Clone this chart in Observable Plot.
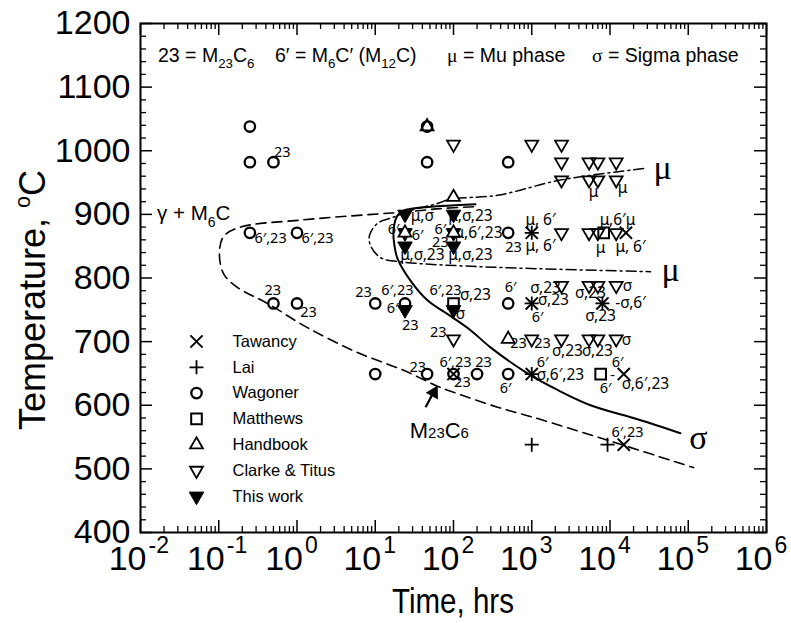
<!DOCTYPE html>
<html>
<head>
<meta charset="utf-8">
<script src="https://cdn.jsdelivr.net/npm/d3@7"></script>
<script src="https://cdn.jsdelivr.net/npm/@observablehq/plot@0.6"></script>
<style>
html,body{margin:0;padding:0;background:#fff;}
#chart{width:791px;height:623px;}
</style>
</head>
<body>
<div id="chart"></div>
<script>
// ---------------- data (time in hours, temperature in °C) ----------------
const tawancy = [[100,649],[1000,649],[15000,649],[1000,760],[8000,760],[1000,871],[16000,871],[15000,538]];
const lai = [[1000,538],[9300,538],[1000,649],[1000,760],[8000,760],[1000,871]];
const wagoner = [[0.25,1038],[0.25,982],[0.5,982],[0.25,871],[1,871],[0.5,760],[1,760],[10,760],[24,760],[500,760],
                 [10,649],[46,649],[100,649],[200,649],[500,649],[46,1038],[46,982],[500,982],[500,871]];
const matthews = [[100,760],[8300,871],[7600,649]];
const handbook = [[46,1038],[100,927],[24,871],[100,871],[500,704]];
const clarkeTitus = [[100,1010],[1000,1010],[2400,1010],[2400,982],[5400,982],[7000,982],[12000,982],
                     [2400,954],[5400,954],[7000,954],[12000,954],[2400,871],[5400,871],[7000,871],[12000,871],
                     [2400,788],[5400,788],[7000,788],[12000,788],[100,704],[1000,704],[2400,704],[5400,704],[7000,704],[12000,704]];
const thisWork = [[24,900],[100,900],[24,871],[100,871],[24,850],[100,850],[24,750],[100,750]];

// boundary curves
const m23c6Curve = [[180,912],[68,909],[21,903],[11.7,901],[1.11,891],[0.19,880],[0.115,865],[0.102,839],[0.115,807],
                    [0.174,785],[0.42,760],[1.36,722],[5.9,683],[23,655],[62,630],[92,622],[365,597],[1050,581],[9300,545],[117000,502]];
const sigmaCurve = [[191,916],[68,913],[23,906],[19.2,898],[17.1,875],[17.6,851],[19.2,831],[28.2,796],[46.5,765],
                    [92,740],[165,718],[297,691],[883,650],[2135,624],[5636,600],[22440,578],[79430,556]];
const muCurve = [[26800,972],[2330,954],[365,930],[92,924],[62,917],[28.2,906],[16.6,895],[10.7,886],[8.45,867],
                 [8.7,851],[11.7,832],[23,825],[324,817],[33000,810]];

// point annotations [text, time, temperature]
const labels = [
  ["23",0.65,997],["6′,23",0.46,862],["6′,23",1.83,862],["23",0.49,780],["23",1.40,746],["23",7.1,777],
  ["6′,23",19.2,780],["6′",16.6,752],["23",28,725],["6′,23",79,780],["σ,23",191,773],["σ",123,744],
  ["23",64,714],["23",35,659],["6′,23",106,667],["23",130,636],["23",242,667],["6′",462,626],
  ["6′",1371,667],["σ,6′,23",2330,647],["6′",8750,626],["-",10770,647],["6′",12470,667],["σ,6′,23",28440,634],
  ["6′,23",16740,557],["23",678,697],["23",1371,697],["σ,23",2864,686],["σ,23",6918,686],["σ",16250,702],
  ["σ,23",1500,785],["σ",16740,787],["σ,23",5636,776],["6′",535,785],["σ,23",1897,765],["6′",1184,738],
  ["-σ,6′",18290,760],["σ,23",7568,741],["μ,6′,23",209,870],["23",585,848],["μ, 6′",1294,891],["μ, 6′",1294,850],
  ["μ",7568,847],["μ,6′μ",12470,891],["μ, 6′",18290,848],["μ,σ",40,898],["μ,σ,23",165,898],["6′",17.1,876],
  ["6′",34.7,867],["6′",68,876],["23",68,856],["μ,σ,23",40,836],["μ,σ,23",165,836],["μ",6152,935],["μ",14450,941]
];
const phaseLabels = [["μ",46900,972],["μ",59300,812],["σ",135000,549]];

const majorX = [1e-2,1e-1,1e0,1e1,1e2,1e3,1e4,1e5,1e6];
const exponents = ["-2","-1","0","1","2","3","4","5","6"];
const minorX = d3.range(-2,6).flatMap(e => d3.range(2,10).map(k => k*Math.pow(10,e)));
const majorY = [400,500,600,700,800,900,1000,1100,1200];
const minorY = d3.range(400,1201,20).filter(v => v % 100 !== 0);

const legendNames = ["Tawancy","Lai","Wagoner","Matthews","Handbook","Clarke & Titus","This work"];

// ---------------- layout ----------------
const W = 791, H = 623, mL = 140, mR = 25, mT = 23, mB = 91;
const fw = W - mL - mR, fh = H - mT - mB;
const SANS = "'Liberation Sans', Arial, Helvetica, sans-serif";
const SERIF = "'Liberation Serif', 'Times New Roman', serif";

const triDown = {draw(ctx, size) {
  const y = Math.sqrt(size / (3 * Math.sqrt(3)));
  const s = Math.sqrt(3);
  ctx.moveTo(0, 2*y); ctx.lineTo(-s*y, -y); ctx.lineTo(s*y, -y); ctx.closePath();
}};

const styles = {
  Tawancy: {symbol: "times", r: 5.6, stroke: "black", strokeWidth: 2, fill: "none"},
  Lai: {symbol: "plus", r: 4.6, stroke: "black", strokeWidth: 1.8, fill: "none"},
  Wagoner: {symbol: "circle", r: 5.2, stroke: "black", strokeWidth: 2.3, fill: "none"},
  Matthews: {symbol: "square", r: 6, stroke: "black", strokeWidth: 2, fill: "none"},
  Handbook: {symbol: "triangle", r: 4.8, stroke: "black", strokeWidth: 1.8, fill: "white"},
  "Clarke & Titus": {symbol: triDown, r: 4.8, stroke: "black", strokeWidth: 1.8, fill: "none"},
  "This work": {symbol: triDown, r: 5.4, stroke: "black", strokeWidth: 1, fill: "black"}
};
const series = {Tawancy: tawancy, Lai: lai, Wagoner: wagoner, Matthews: matthews, Handbook: handbook,
                "Clarke & Titus": clarkeTitus, "This work": thisWork};
const drawOrder = ["This work","Handbook","Wagoner","Matthews","Clarke & Titus","Tawancy","Lai"];

const marks = [
  // ticks (inside, mirrored)
  Plot.tickX(majorX, {x: d => d, insetTop: fh - 12, stroke: "black", strokeWidth: 1.5}),
  Plot.tickX(majorX, {x: d => d, insetBottom: fh - 12, stroke: "black", strokeWidth: 1.5}),
  Plot.tickX(minorX, {x: d => d, insetTop: fh - 6, stroke: "black", strokeWidth: 1.3}),
  Plot.tickX(minorX, {x: d => d, insetBottom: fh - 6, stroke: "black", strokeWidth: 1.3}),
  Plot.tickY(majorY, {y: d => d, insetRight: fw - 12, stroke: "black", strokeWidth: 1.5}),
  Plot.tickY(majorY, {y: d => d, insetLeft: fw - 12, stroke: "black", strokeWidth: 1.5}),
  Plot.tickY(minorY, {y: d => d, insetRight: fw - 6, stroke: "black", strokeWidth: 1.3}),
  Plot.tickY(minorY, {y: d => d, insetLeft: fw - 6, stroke: "black", strokeWidth: 1.3}),
  Plot.frame({stroke: "black", strokeWidth: 2}),
  // tick labels
  Plot.text(majorY, {y: d => d, text: d => String(d), frameAnchor: "left", dx: -10, textAnchor: "end",
    lineAnchor: "middle", fontSize: 34, fontFamily: SANS, fill: "black"}),
  Plot.text(majorX, {x: d => d, text: () => "10", frameAnchor: "bottom", dx: 6, dy: 27, textAnchor: "end",
    lineAnchor: "middle", fontSize: 34, fontFamily: SANS, fill: "black"}),
  Plot.text(majorX.map((d, i) => ({d, e: exponents[i]})), {x: "d", text: "e", frameAnchor: "bottom", dx: 8, dy: 13,
    textAnchor: "start", lineAnchor: "middle", fontSize: 23, fontFamily: SANS, fill: "black"}),
  // curves
  Plot.line(m23c6Curve, {x: d => d[0], y: d => d[1], curve: "catmull-rom", stroke: "black", strokeWidth: 1.6, strokeDasharray: "10,6"}),
  Plot.line(sigmaCurve, {x: d => d[0], y: d => d[1], curve: "catmull-rom", stroke: "black", strokeWidth: 2}),
  Plot.line(muCurve, {x: d => d[0], y: d => d[1], curve: "catmull-rom", stroke: "black", strokeWidth: 1.5, strokeDasharray: "10,4,2,4"}),
  // arrow to the M23C6 curve
  Plot.link([[44,597,57,623]], {x1: d => d[0], y1: d => d[1], x2: d => d[2], y2: d => d[3], stroke: "black", strokeWidth: 2.2}),
  Plot.dot([[56,620]], {x: d => d[0], y: d => d[1], symbol: "triangle", r: 5.2, fill: "black", rotate: 29}),
  // annotations
  Plot.text(labels, {x: d => d[1], y: d => d[2], text: d => d[0],
    fontFamily: d => /[μσ]/.test(d[0]) ? SERIF : SANS, fontSize: d => /[μσ]/.test(d[0]) ? 15.5 : 14.5,
    fill: "black", textAnchor: "middle", lineAnchor: "middle"}),
  Plot.text(phaseLabels, {x: d => d[1], y: d => d[2], text: d => d[0], fontFamily: SERIF, fontSize: 34,
    fill: "black", textAnchor: "middle", lineAnchor: "middle"})
];

for (const name of drawOrder) {
  const st = styles[name];
  marks.push(Plot.dot(series[name], {x: d => d[0], y: d => d[1], ...st}));
}
// legend
legendNames.forEach((name, i) => {
  const st = styles[name];
  marks.push(Plot.dot([0], {frameAnchor: "top-left", dx: 56, dy: 318 + i * 25.8, ...st}));
  marks.push(Plot.text([name], {frameAnchor: "top-left", dx: 92, dy: 318 + i * 25.8, text: d => d,
    textAnchor: "start", lineAnchor: "middle", fontSize: 16.5, fontFamily: SANS, fill: "black"}));
});

const plot = Plot.plot({
  width: W, height: H,
  marginLeft: mL, marginRight: mR, marginTop: mT, marginBottom: mB,
  x: {type: "log", domain: [1e-2, 1e6], axis: null},
  y: {domain: [400, 1200], axis: null},
  style: {background: "white", overflow: "visible"},
  marks
});
document.getElementById("chart").appendChild(plot);

// ---------------- rich text (sub/superscripts) ----------------
const svg = d3.select(plot);
const xs = plot.scale("x"), ys = plot.scale("y");
function rich(x, y, parts, size, family, {center = false, rotate = 0, sx = 1} = {}) {
  const g = svg.append("g");
  const t = g.append("text").attr("x", 0).attr("y", 0).attr("font-size", size)
    .attr("font-family", family).attr("fill", "black").attr("text-anchor", "start");
  let shift = 0;
  for (const [s, kind = "n", fam, scale] of parts) {
    const target = kind === "sub" ? size * 0.32 : kind === "sup" ? -size * 0.42 : 0;
    const ts = t.append("tspan").attr("dy", target - shift).text(s);
    if (kind !== "n") ts.attr("font-size", size * (scale || 0.68));
    if (fam) ts.attr("font-family", fam);
    shift = target;
  }
  const len = t.node().getComputedTextLength();
  if (center) t.attr("x", -len / 2);
  g.attr("transform", `translate(${x},${y}) rotate(${rotate}) scale(${sx},1)`);
  return g;
}
// header
rich(158, 62, [["23 = M"],["23","sub"],["C"],["6","sub"]], 19.5, SANS);
rich(275, 62, [["6′ = M"],["6","sub"],["C′ (M"],["12","sub"],["C)"]], 19.5, SANS);
rich(447, 62, [["μ","n",SERIF],[" = Mu phase"]], 19.5, SANS);
rich(592, 62, [["σ","n",SERIF],[" = Sigma phase"]], 19.5, SANS);
// region label
rich(xs.apply(0.0165), ys.apply(901) + 7, [["γ + M"],["6","sub"],["C"]], 20.5, SANS);
// M23C6 label
rich(xs.apply(28), ys.apply(560) + 8, [["M"],["23","small",null,0.68],["C"],["6","small",null,0.68]], 22, SANS);
// axis titles
rich(45, 300, [["Temperature, "],["o","sup",null,0.6],["C"]], 36, SANS, {center: true, rotate: -90});
rich(453, 613, [["Time, hrs"]], 36, SANS, {center: true, sx: 0.82});
</script>
</body>
</html>
